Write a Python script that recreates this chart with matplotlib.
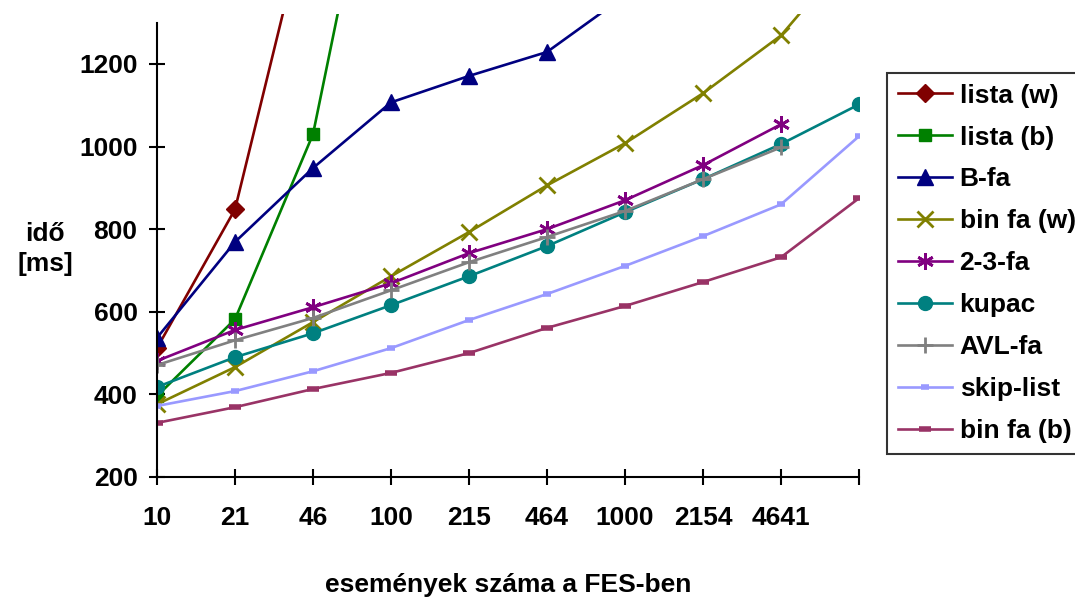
import matplotlib
matplotlib.use("Agg")
import matplotlib.pyplot as plt
import numpy as np

plt.rcParams['font.family'] = ['Liberation Sans', 'DejaVu Sans']
plt.rcParams['font.weight'] = 'bold'

x_labels = ['10', '21', '46', '100', '215', '464', '1000', '2154', '4641', '']

lista_w = [512, 848, 1620]
lista_b = [396, 582, 1030, 1950]
b_fa = [537, 769, 948, 1107, 1171, 1229, 1365]
bin_fa_w = [376, 466, 575, 686, 793, 906, 1008, 1129, 1269, 1490]
fa_23 = [481, 556, 611, 669, 742, 800, 870, 955, 1054]
kupac = [418, 490, 548, 616, 686, 759, 841, 921, 1006, 1102]
avl_fa = [471, 531, 585, 652, 720, 781, 844, 921, 998]
skip_list = [372, 408, 456, 512, 580, 643, 711, 783, 860, 1025]
bin_fa_b = [331, 369, 413, 452, 500, 561, 614, 672, 732, 875]

series = [
    ('lista (w)', lista_w, '#800000', 'D', 9, 1),
    ('lista (b)', lista_b, '#008000', 's', 9, 1),
    ('B-fa', b_fa, '#000080', '^', 11, 1),
    ('bin fa (w)', bin_fa_w, '#808000', 'x', 11, 2),
    ('2-3-fa', fa_23, '#800080', (6, 2, 0), 12, 2),
    ('kupac', kupac, '#008080', 'o', 10, 1),
    ('AVL-fa', avl_fa, '#808080', '+', 12, 2),
    ('skip-list', skip_list, '#9999FF', '_', 6, 4),
    ('bin fa (b)', bin_fa_b, '#993366', '_', 9, 4),
]

fs = 19

fig = plt.figure(figsize=(10.75, 6), dpi=100)
ax = fig.add_axes([157 / 1075, 0.205, (859 - 157) / 1075, 0.976 - 0.205])

for name, vals, col, mk, ms, mew in series:
    ax.plot(range(len(vals)), vals, color=col, lw=1.9, marker=mk, ms=ms,
            mew=mew, mec=col, mfc=col, label=name)

ax.set_xlim(0, 9)
ax.set_ylim(200, 1320)
ax.set_yticks(range(200, 1201, 200))
ax.set_xticks(range(len(x_labels)))
ax.set_xticklabels(x_labels)
for s in ['top', 'right']:
    ax.spines[s].set_visible(False)
ax.spines['left'].set_bounds(200, 1300)
for s in ['left', 'bottom']:
    ax.spines[s].set_linewidth(1.5)
ax.tick_params(axis='both', direction='inout', length=12, width=1.5,
               labelsize=fs)
ax.tick_params(axis='x', pad=15)
ax.tick_params(axis='y', pad=8)

fig.text(45 / 1075, 1 - 249 / 600, 'idő\n[ms]', ha='center', va='center',
         fontsize=fs, fontweight='bold', linespacing=1.35)
fig.text(508 / 1075, 1 - 585 / 600, 'események száma a FES-ben',
         ha='center', va='center', fontsize=fs, fontweight='bold')

leg = ax.legend(loc='upper left', bbox_to_anchor=(887 / 1075, 1 - 73 / 600),
                bbox_transform=fig.transFigure, fontsize=fs, frameon=True,
                fancybox=False, edgecolor='black', labelspacing=0.68,
                handlelength=2.05, handletextpad=0.3, borderpad=0.4,
                borderaxespad=0)
leg.get_frame().set_linewidth(1.5)

fig.savefig('out.png', dpi=100)
